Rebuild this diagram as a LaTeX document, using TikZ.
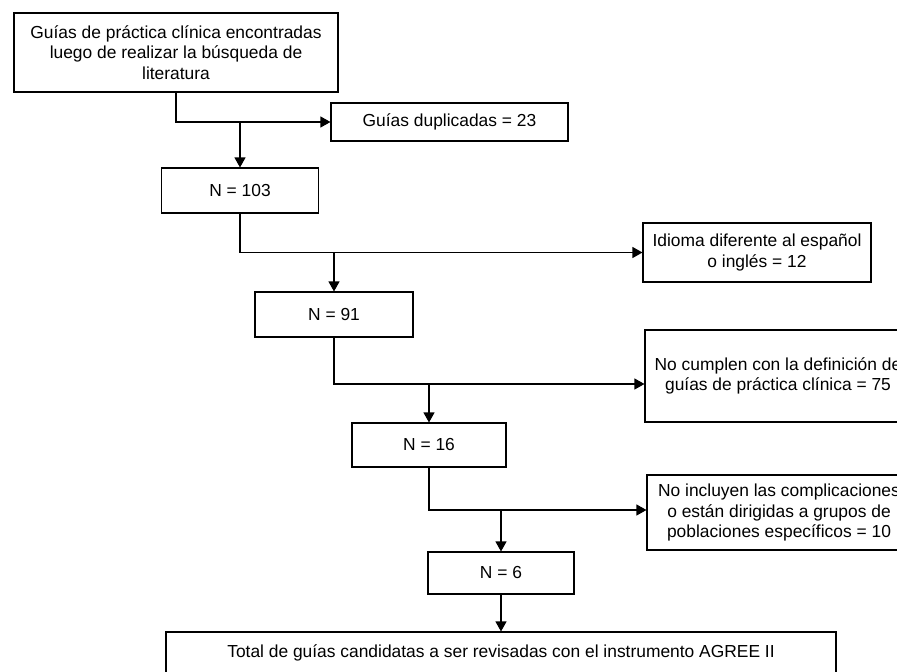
\documentclass[tikz,border=0pt]{standalone}
\usepackage{fontspec}
\setmainfont{Liberation Sans}
\usetikzlibrary{arrows.meta}
\tikzset{
  stage box/.style={
    draw,
    line width=1.1pt,
    align=center,
    inner sep=2pt,
    font=\fontsize{17.4}{20.5}\selectfont
  },
  link/.style={
    line width=1.1pt
  },
  link arrow/.style={
    link,
    -{Triangle[length=10pt, width=11pt]}
  }
}

\begin{document}
\begin{tikzpicture}[x=1pt, y=-1pt]

    % marco de la figura (las cajas de la derecha quedan cortadas)
    \useasboundingbox (0,0) rectangle (897,672);
    \fill[white] (0,0) rectangle (897,672);
    \clip (0,0) rectangle (897,672);

    % columna principal
    \node[stage box, minimum width=324pt, minimum height=79pt] (search) at (176,52.5)
      {Guías de práctica clínica encontradas\\luego de realizar la búsqueda de\\literatura};
    \node[stage box, minimum width=157pt, minimum height=45pt] (n103) at (240,190.5) {N = 103};
    \node[stage box, minimum width=158pt, minimum height=45pt] (n91) at (334,314.5) {N = 91};
    \node[stage box, minimum width=154pt, minimum height=44pt] (n16) at (429,445) {N = 16};
    \node[stage box, minimum width=146pt, minimum height=42pt] (n6) at (501,573) {N = 6};
    \node[stage box, minimum width=670pt, minimum height=42pt] (total) at (501,653)
      {Total de guías candidatas a ser revisadas con el instrumento AGREE II};

    % guías excluidas (lado derecho)
    \node[stage box, minimum width=237pt, minimum height=38pt] (dup) at (449.5,122) {Guías duplicadas = 23};
    \node[stage box, minimum width=228pt, minimum height=59pt] (lang) at (757,252.5)
      {Idioma diferente al español\\o inglés = 12};
    \node[stage box, minimum width=266pt, minimum height=92pt] (def) at (778,376)
      {No cumplen con la definición de\\guías de práctica clínica = 75};
    \node[stage box, minimum width=264pt, minimum height=75pt] (spec) at (779,512.5)
      {No incluyen las complicaciones\\o están dirigidas a grupos de\\poblaciones específicos = 10};

    % alturas de las ramas
    \coordinate (cut3) at (0,384);
    \coordinate (cut4) at (0,510);

    % conectores
    \draw[link arrow] (search.south) |- (dup.west);
    \draw[link arrow] (n103.north |- dup.west) -- (n103.north);

    \draw[link arrow] (n103.south) |- (lang.west);
    \draw[link arrow] (n91.north |- lang.west) -- (n91.north);

    \draw[link arrow] (n91.south) |- (def.west |- cut3);
    \draw[link arrow] (n16.north |- cut3) -- (n16.north);

    \draw[link arrow] (n16.south) |- (spec.west |- cut4);
    \draw[link arrow] (n6.north |- cut4) -- (n6.north);

    \draw[link arrow] (n6.south) -- (total.north);

\end{tikzpicture}
\end{document}
